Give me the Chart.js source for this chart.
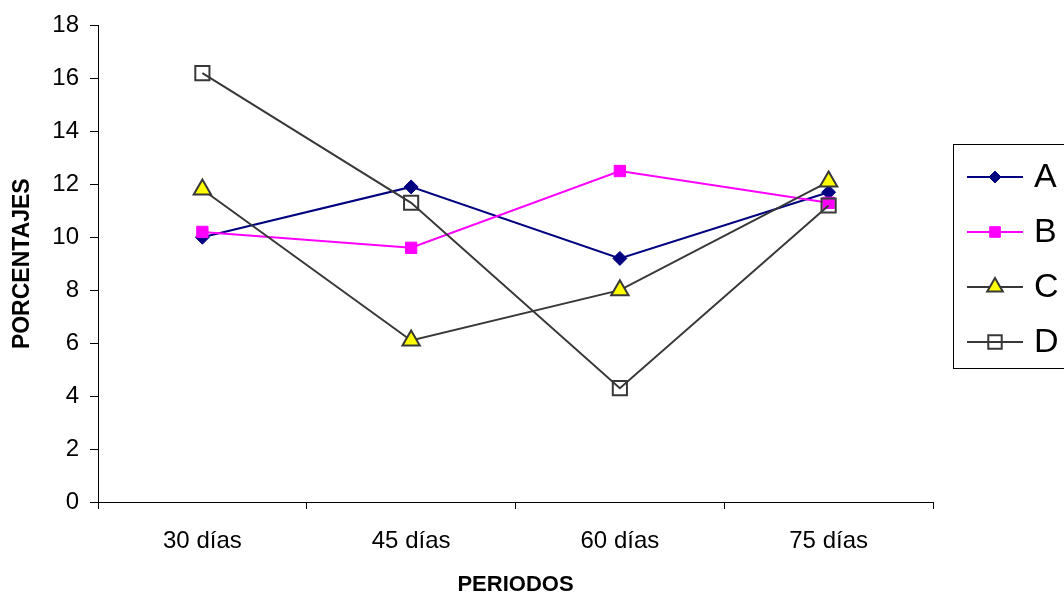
<!DOCTYPE html>
<html lang="es">
<head>
<meta charset="utf-8">
<title>Porcentajes por periodo</title>
<script src="https://cdn.jsdelivr.net/npm/chart.js@4.4.1/dist/chart.umd.min.js"></script>
<style>
    html, body { margin: 0; padding: 0; background: #ffffff; }
    #wrap { width: 1064px; height: 596px; }
</style>
</head>
<body>
<div id="wrap"><canvas id="chart" width="1064" height="596"></canvas></div>
<script>
// Periods on the x axis
const periodos = ['30 días', '45 días', '60 días', '75 días'];

// Percentages per series
const serieA = [10.0, 11.9, 9.2, 11.7];
const serieB = [10.2, 9.6, 12.5, 11.3];
const serieC = [11.8, 6.1, 8.0, 12.1];
const serieD = [16.2, 11.3, 4.3, 11.2];

// Y axis range
const yMin = 0;
const yMax = 18;
const yStep = 2;

const FONT = '"Liberation Sans", Arial, sans-serif';

// Marker sizes used inside the legend box (smaller than on the plot)
const legendMarker = { A: 6, B: 7.5, C: 9, D: 9.5 };

// Excel-style legend box on the right, partly cut by the canvas edge
const legendBox = {
    id: 'legendBox',
    afterDraw(chart) {
        const ctx = chart.ctx;
        ctx.save();
        ctx.strokeStyle = '#000000';
        ctx.lineWidth = 1;
        ctx.strokeRect(953.5, 144.5, 140, 224);

        chart.data.datasets.forEach((ds, i) => {
            const y = 177 + i * 55;

            ctx.strokeStyle = ds.borderColor;
            ctx.lineWidth = 2;
            ctx.beginPath();
            ctx.moveTo(967, y);
            ctx.lineTo(1023, y);
            ctx.stroke();

            ctx.fillStyle = ds.pointBackgroundColor;
            ctx.strokeStyle = ds.pointBorderColor;
            ctx.lineWidth = ds.pointBorderWidth;
            Chart.helpers.drawPoint(ctx, {
                pointStyle: ds.pointStyle,
                radius: legendMarker[ds.label],
                borderWidth: ds.pointBorderWidth,
                rotation: 0
            }, 995, y);

            ctx.fillStyle = '#000000';
            ctx.font = '34px ' + FONT;
            ctx.textBaseline = 'middle';
            ctx.textAlign = 'left';
            ctx.fillText(ds.label, 1034, y + 1);
        });
        ctx.restore();
    }
};

const ctx = document.getElementById('chart');

new Chart(ctx, {
    type: 'line',
    data: {
        labels: periodos,
        datasets: [
            {
                label: 'A',
                data: serieA,
                borderColor: '#000080',
                borderWidth: 2,
                pointStyle: 'rectRot',
                pointRadius: 7,
                pointBackgroundColor: '#000080',
                pointBorderColor: '#000080',
                pointBorderWidth: 1,
                order: 4
            },
            {
                label: 'B',
                data: serieB,
                borderColor: '#ff00ff',
                borderWidth: 2,
                pointStyle: 'rect',
                pointRadius: 8,
                pointBackgroundColor: '#ff00ff',
                pointBorderColor: '#ff00ff',
                pointBorderWidth: 1,
                order: 3
            },
            {
                label: 'C',
                data: serieC,
                borderColor: '#383838',
                borderWidth: 2,
                pointStyle: 'triangle',
                pointRadius: 10,
                pointBackgroundColor: '#ffff00',
                pointBorderColor: '#383838',
                pointBorderWidth: 2,
                order: 2
            },
            {
                label: 'D',
                data: serieD,
                borderColor: '#383838',
                borderWidth: 2,
                pointStyle: 'rect',
                pointRadius: 10,
                pointBackgroundColor: 'rgba(255,255,255,0)',
                pointBorderColor: '#383838',
                pointBorderWidth: 2,
                order: 1
            }
        ]
    },
    options: {
        responsive: false,
        animation: false,
        layout: { padding: { top: 24, right: 131, bottom: 0, left: 0 } },
        plugins: {
            legend: { display: false },
            tooltip: { enabled: false }
        },
        elements: { line: { tension: 0 } },
        scales: {
            x: {
                offset: true,
                afterFit(scale) { scale.height = 94; },
                border: { color: '#000000', width: 1 },
                grid: {
                    offset: true,
                    drawOnChartArea: false,
                    drawTicks: true,
                    tickLength: 7,
                    color: '#000000'
                },
                ticks: {
                    color: '#000000',
                    padding: 18,
                    maxRotation: 0,
                    font: { family: FONT, size: 24 }
                },
                title: {
                    display: true,
                    text: 'PERIODOS',
                    color: '#000000',
                    padding: { top: 0, bottom: 0 },
                    font: { family: FONT, size: 22, weight: 'bold', lineHeight: 1 }
                }
            },
            y: {
                min: yMin,
                max: yMax,
                afterFit(scale) { scale.width = 98; },
                border: { color: '#000000', width: 1 },
                grid: {
                    drawOnChartArea: false,
                    drawTicks: true,
                    tickLength: 8,
                    color: '#000000'
                },
                ticks: {
                    stepSize: yStep,
                    color: '#000000',
                    padding: 11,
                    font: { family: FONT, size: 24 }
                },
                title: {
                    display: true,
                    text: 'PORCENTAJES',
                    color: '#000000',
                    padding: { top: 11, bottom: 11 },
                    font: { family: FONT, size: 23, weight: 'bold', lineHeight: 1 }
                }
            }
        }
    },
    plugins: [legendBox]
});
</script>
</body>
</html>
